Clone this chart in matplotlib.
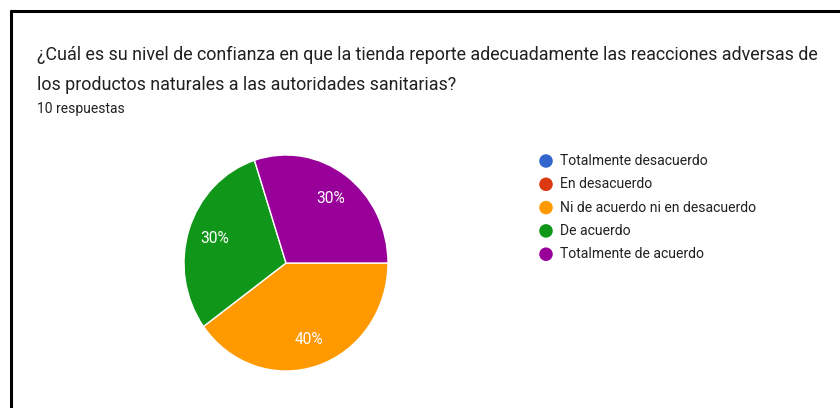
import matplotlib
matplotlib.use("Agg")
import matplotlib.pyplot as plt

categories = ["Totalmente desacuerdo", "En desacuerdo", "Ni de acuerdo ni en desacuerdo",
              "De acuerdo", "Totalmente de acuerdo"]
values = [0, 0, 4, 3, 3]
colors = ["#3366cc", "#dc3912", "#ff9900", "#109618", "#990099"]
title_lines = ["¿Cuál es su nivel de confianza en que la tienda reporte adecuadamente las reacciones adversas de",
               "los productos naturales a las autoridades sanitarias?"]
subtitle = "10 respuestas"

plt.rcParams['font.family'] = ['Roboto', 'DejaVu Sans']

W, H = 840, 408
fig = plt.figure(figsize=(W / 100, H / 100), dpi=100)
fig.patch.set_facecolor("white")

# overlay axes in pixel coordinates
ov = fig.add_axes([0, 0, 1, 1])
ov.set_xlim(0, W)
ov.set_ylim(H, 0)
ov.axis("off")

# border (top and left)
ov.plot([10, W], [11, 11], color="black", lw=2.2, solid_capstyle="butt")
ov.plot([11, 11], [10, H], color="black", lw=2.2, solid_capstyle="butt")

ov.text(37, 55, title_lines[0], fontsize=12.83, color="#212121", va="center", ha="left")
ov.text(37, 85, title_lines[1], fontsize=12.83, color="#212121", va="center", ha="left")
ov.text(37, 109, subtitle, fontsize=10.0, color="#212121", va="center", ha="left")

# legend
leg_y0, leg_dy = 161, 23.3
for i, (cat, col) in enumerate(zip(categories, colors)):
    y = leg_y0 + i * leg_dy
    ov.scatter([546], [y], s=95, color=col, edgecolors="none")
    ov.text(560, y, cat, fontsize=10.1, color="#222222", va="center", ha="left")

# pie (slightly stretched vertically, like the screenshot)
cx, cy, rx, ry = 286, 263, 102, 108
pax = fig.add_axes([(cx - rx) / W, (H - cy - ry) / H, 2 * rx / W, 2 * ry / H])
pax.axis("off")

def fmt(p):
    return f"{p:.0f}%" if p > 0.5 else ""

wedges, texts, autotexts = pax.pie(values, colors=colors, startangle=0, counterclock=False,
                                   radius=1, autopct=fmt, pctdistance=0.74,
                                   wedgeprops=dict(edgecolor="white", linewidth=1.0),
                                   textprops=dict(color="white", fontsize=11.2))
pax.set_aspect("auto")
pax.set_xlim(-1, 1)
pax.set_ylim(-1, 1)

fig.savefig("out.png", dpi=100, facecolor="white")
